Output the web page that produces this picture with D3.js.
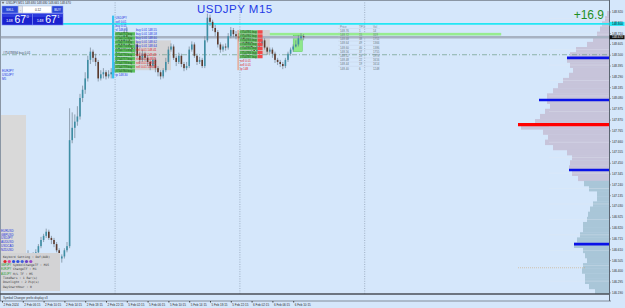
<!DOCTYPE html>
<html>
<head>
<meta charset="utf-8">
<script src="https://cdn.jsdelivr.net/npm/d3@7"></script>
<style>
  body { margin: 0; background: #d5e7fb; }
  svg { display: block; font-family: "Liberation Sans", Arial, sans-serif; }
</style>
</head>
<body>
<div id="chart"></div>
<script>
// ---- chart data ----
const symbolTitle = "USDJPY M15";
const headerText = "USDJPY,M15  148.680 148.680 148.665 148.670";
const profitText = "+16.9";

// M15 candles, two bars per slot; first visible slot
const firstBarSlot = 10;
const candleOpen = [
  146.56,146.54,146.52,146.56,146.58,146.64,146.70,146.74,146.78,146.72,
  146.70,146.66,146.60,146.52,146.54,146.60,146.64,147.67,147.79,147.85,
  147.90,148.08,148.16,148.27,148.45,148.53,148.47,148.43,148.27,148.31,
  148.33,148.29,148.31,148.33,148.43,148.55,148.64,148.60,148.72,148.66,
  148.58,148.53,148.60,148.49,148.45,148.51,148.47,148.43,148.39,148.45,
  148.37,148.33,148.29,148.35,148.43,148.55,148.58,148.47,148.43,148.49,
  148.41,148.37,148.39,148.55,148.60,148.49,148.43,148.45,148.39,148.64,
  148.86,148.82,148.76,148.72,148.60,148.55,148.58,148.57,148.68,148.74,
  148.70,148.68,148.66,148.68,148.64,148.60,148.62,148.55,148.53,148.58,
  148.60,148.64,148.57,148.53,148.55,148.51,148.45,148.43,148.41,148.39,
  148.45,148.51,148.55,148.58,148.60,148.66,148.68
];
const candleHigh = [
  146.60,146.57,146.58,146.61,146.66,146.73,146.76,146.81,146.80,146.74,
  146.72,146.68,146.62,146.56,146.62,146.68,147.98,147.94,147.92,148.00,
  148.12,148.20,148.33,148.49,148.57,148.55,148.51,148.45,148.35,148.37,
  148.35,148.35,148.37,148.47,148.58,148.68,148.66,148.75,148.77,148.68,
  148.60,148.64,148.62,148.53,148.55,148.53,148.50,148.45,148.48,148.47,
  148.39,148.35,148.37,148.47,148.58,148.61,148.60,148.49,148.52,148.51,
  148.43,148.43,148.58,148.63,148.62,148.51,148.48,148.47,148.68,148.90,
  148.89,148.84,148.79,148.74,148.62,148.60,148.61,148.71,148.77,148.76,
  148.73,148.71,148.71,148.70,148.66,148.65,148.64,148.58,148.60,148.63,
  148.66,148.66,148.58,148.57,148.57,148.53,148.47,148.45,148.43,148.47,
  148.53,148.57,148.60,148.64,148.69,148.71,148.70
];
const candleLow = [
  146.51,146.50,146.51,146.54,146.57,146.62,146.68,146.72,146.70,146.66,
  146.63,146.58,146.49,146.48,146.52,146.58,146.62,147.64,147.69,147.81,
  147.87,148.04,148.12,148.24,148.41,148.43,148.39,148.24,148.25,148.27,
  148.26,148.27,148.27,148.30,148.41,148.51,148.57,148.58,148.62,148.55,
  148.49,148.50,148.47,148.41,148.43,148.44,148.39,148.35,148.37,148.33,
  148.29,148.26,148.27,148.33,148.41,148.53,148.45,148.39,148.41,148.38,
  148.34,148.35,148.37,148.53,148.47,148.40,148.41,148.37,148.37,148.62,
  148.78,148.73,148.68,148.57,148.52,148.53,148.54,148.55,148.66,148.67,
  148.65,148.63,148.64,148.61,148.57,148.58,148.52,148.50,148.51,148.57,
  148.58,148.55,148.50,148.51,148.47,148.42,148.40,148.38,148.36,148.37,
  148.43,148.49,148.53,148.57,148.58,148.64,148.64
];
const candleClose = [
  146.54,146.52,146.56,146.58,146.64,146.70,146.74,146.78,146.72,146.70,
  146.66,146.60,146.52,146.54,146.60,146.64,147.67,147.79,147.85,147.90,
  148.08,148.16,148.27,148.45,148.53,148.47,148.43,148.27,148.31,148.33,
  148.29,148.31,148.33,148.43,148.55,148.64,148.60,148.72,148.66,148.58,
  148.53,148.60,148.49,148.45,148.51,148.47,148.43,148.39,148.45,148.37,
  148.33,148.29,148.35,148.43,148.55,148.58,148.47,148.43,148.49,148.41,
  148.37,148.39,148.55,148.60,148.49,148.43,148.45,148.39,148.64,148.86,
  148.82,148.76,148.72,148.60,148.55,148.58,148.57,148.68,148.74,148.70,
  148.68,148.66,148.68,148.64,148.60,148.62,148.55,148.53,148.58,148.60,
  148.64,148.57,148.53,148.55,148.51,148.45,148.43,148.41,148.39,148.45,
  148.51,148.55,148.58,148.60,148.66,148.68,148.67
];

// time axis
const timeSlots = [0, 8, 16, 24, 32, 40, 48, 56, 64, 72, 80, 88, 96, 104, 112];
const timeLabels = ["2 Feb 2024", "2 Feb 06:15", "2 Feb 10:15", "2 Feb 14:15", "2 Feb 18:15",
  "2 Feb 22:15", "5 Feb 02:15", "5 Feb 06:15", "5 Feb 10:15", "5 Feb 14:15", "5 Feb 18:15",
  "5 Feb 22:15", "6 Feb 02:15", "6 Feb 06:15", "6 Feb 10:15"];
const daySeparatorSlots = [43.5, 91.5, 139.5];

// price axis
const priceTicks = [148.920, 148.815, 148.710, 148.605, 148.500, 148.395, 148.290, 148.185,
  148.080, 147.975, 147.870, 147.765, 147.660, 147.555, 147.450, 147.345, 147.240, 147.135,
  147.030, 146.925, 146.820, 146.715, 146.610, 146.505, 146.400, 146.295, 146.190];
const bidPrice = 148.670;
const cyanLevel = 148.800;
const orderLevel = 148.500;
const orderLabel = "#75478894 buy 0.01";

// volume profile (right side)
const profilePrices = [148.90,148.85,148.80,148.75,148.70,148.65,148.60,148.55,148.50,148.45,
  148.40,148.35,148.30,148.25,148.20,148.15,148.10,148.05,148.00,147.95,147.90,147.85,147.80,
  147.75,147.70,147.65,147.60,147.55,147.50,147.45,147.40,147.35,147.30,147.25,147.20,147.15,
  147.10,147.05,147.00,146.95,146.90,146.85,146.80,146.75,146.70,146.65,146.60,146.55,146.50,
  146.45,146.40,146.35,146.30,146.25,146.20];
const profileVolumes = [2,4,7,9,12,16,22,33,39,42,39,36,40,46,51,56,62,62,59,64,69,74,88,66,61,
  64,56,42,37,39,40,37,31,25,20,12,12,16,19,21,22,26,26,29,32,35,26,24,22,26,27,24,24,20,14];
const keyLevelPrices = [148.47, 148.06, 147.82, 147.38, 146.66];
const keyLevelVolumes = [42, 70, 91, 40, 35];
const keyLevelColors = ["#0a12e8", "#0a12e8", "#ff0000", "#0a12e8", "#0a12e8"];

// stats table
const tableHeader = ["Price", "TPO", "Vol"];
const tablePrices = ["148.76","148.72","148.68","148.64","148.60","148.56","148.52","148.48","148.44","148.40"];
const tableCounts = [1, 15, 38, 49, 40, 37, 28, 22, 19, 6];
const tableVolumes = [14, 319, 1751, 1366, 1386, 1755, 1978, 1616, 1614, 1248];

// trade tags
const tagsLeftA = ["USDJPY","sell 0.01","buy 0.01","sl 148.90","#754771 buy","#754772 buy","#754773 buy",
  "#754774 buy","#754775 buy","#754776 buy","#754777 buy","#754778 buy","#754779 buy","#754780 buy","tp 148.30"];
const tagsRightA = ["buy 0.01 148.55","buy 0.01 148.58","buy 0.01 148.60","buy 0.01 148.62","buy 0.01 148.64",
  "sell 0.01 148.41","sell 0.01 148.43","sell 0.01 148.45","sell 0.01 148.47","sell 0.01 148.49"];
const tagsB = ["#754781 buy","#754782 buy","#754783 buy","#754784 buy","#754785 buy","#754786 buy",
  "#754787 buy","sell 0.01","sell 0.01","tp 148"];

// left side panels
const symbolsMid = ["EURJPY", "USDJPY", "M5"];
const symbolList = ["EURUSD", "GBPUSD", "USDJPY", "AUDUSD", "USDCAD", "NZDUSD"];
const symbolGreen = ["GBPJPY", "EURJPY", "AUDJPY"];
const dotColors = ["#e02828", "#e0409c", "#3050e0", "#3050e0", "#4060e0", "#6a40c8", "#9a48c8"];
const keyboardLines = ["Keybord Setting : Def(AUD)", "", "SymbolChangeTF : M15", "ChangeTF : M1",
  "H/L TF : M5", "TimeBars : 1 Bar(s)", "Downlight : 2 Pip(s)", "DayStartHour : 0"];
const footerText = "Symbol Changer prefix display v3";

function createPriceChart() {
    const width = 625, height = 308;
    const plot = {left: 2, right: 609, top: 0, bottom: 294};
    const bg = "#d5e7fb";

    const svg = d3.select("#chart").append("svg")
        .attr("width", width)
        .attr("height", height);

    svg.append("rect").attr("width", width).attr("height", height).attr("fill", bg);

    svg.append("clipPath").attr("id", "plotClip")
        .append("rect")
        .attr("x", 0).attr("y", plot.top)
        .attr("width", plot.right).attr("height", plot.bottom - plot.top);

    // slot = 30 minutes of M15 bars
    const x = d3.scaleLinear()
        .domain([0, (plot.right - plot.left) / 2.6])
        .range([plot.left, plot.right]);
    const y = d3.scaleLinear()
        .domain([146.175, 149.032])
        .range([plot.bottom, plot.top]);
    const xVol = d3.scaleLinear().domain([0, 100]).range([plot.right, plot.right - 100]);

    const g = svg.append("g").attr("clip-path", "url(#plotClip)");

    // gray box on the left edge
    g.append("rect").attr("x", 0).attr("y", 115).attr("width", 26).attr("height", 140).attr("fill", "#d9d9d9");

    // volume profile
    const step = 0.05;
    g.selectAll(".vp")
        .data(profilePrices)
        .enter()
        .append("rect")
        .attr("class", "vp")
        .attr("x", (d, i) => xVol(profileVolumes[i]))
        .attr("y", d => y(d + step / 2))
        .attr("width", (d, i) => plot.right - xVol(profileVolumes[i]))
        .attr("height", y(0) - y(step) + 0.3)
        .attr("fill", d => d >= 147.28 ? "#c7c4da" : "#a9c6d8");

    // thin light separators inside the profile
    g.selectAll(".vpsep")
        .data(profilePrices.filter((d, i) => i % 3 === 1))
        .enter()
        .append("line")
        .attr("x1", plot.right - 60).attr("x2", plot.right)
        .attr("y1", d => y(d)).attr("y2", d => y(d))
        .attr("stroke", "#e4eaf4").attr("stroke-width", 0.5).attr("opacity", 0.7);

    g.selectAll(".key")
        .data(keyLevelPrices)
        .enter()
        .append("line")
        .attr("x1", (d, i) => xVol(keyLevelVolumes[i]))
        .attr("x2", plot.right)
        .attr("y1", d => y(d)).attr("y2", d => y(d))
        .attr("stroke", (d, i) => keyLevelColors[i])
        .attr("stroke-width", (d, i) => keyLevelColors[i] === "#ff0000" ? 3.2 : 2.6);

    g.append("line")
        .attr("x1", xVol(91)).attr("x2", xVol(24))
        .attr("y1", y(146.43)).attr("y2", y(146.43))
        .attr("stroke", "#c9a97c").attr("stroke-width", 0.6).attr("stroke-dasharray", "1,1");

    // day separators
    g.selectAll(".sep")
        .data(daySeparatorSlots)
        .enter()
        .append("line")
        .attr("x1", d => x(d)).attr("x2", d => x(d))
        .attr("y1", plot.top).attr("y2", plot.bottom)
        .attr("stroke", "#7a8ca0").attr("stroke-width", 0.6).attr("stroke-dasharray", "1,1.4");

    // green level bar and boxes
    g.append("rect")
        .attr("x", x(91)).attr("y", y(148.70) - 1.3)
        .attr("width", x(192) - x(91)).attr("height", 2.6)
        .attr("fill", "#97ec8f");
    g.append("rect")
        .attr("x", x(50)).attr("y", y(148.64))
        .attr("width", x(65) - x(50)).attr("height", y(148.35) - y(148.64))
        .attr("fill", "#d4d4d6");
    g.append("rect")
        .attr("x", x(91.5)).attr("y", y(148.74))
        .attr("width", x(103) - x(91.5)).attr("height", y(148.50) - y(148.74))
        .attr("fill", "#d2d2d4");
    g.append("rect")
        .attr("x", x(112)).attr("y", y(148.69))
        .attr("width", x(115.5) - x(112)).attr("height", y(148.53) - y(148.69))
        .attr("fill", "#8fe88a").attr("stroke", "#5bcf5b").attr("stroke-width", 0.5);

    // horizontal lines
    g.append("line")
        .attr("x1", plot.left).attr("x2", plot.right)
        .attr("y1", y(cyanLevel)).attr("y2", y(cyanLevel))
        .attr("stroke", "#22e6f4").attr("stroke-width", 1.6);
    g.append("line")
        .attr("x1", plot.left).attr("x2", plot.right)
        .attr("y1", y(orderLevel)).attr("y2", y(orderLevel))
        .attr("stroke", "#6e9c86").attr("stroke-width", 0.7).attr("stroke-dasharray", "5,2,1,2");
    g.append("text")
        .attr("x", 3).attr("y", y(orderLevel) - 1)
        .attr("font-size", 3).attr("fill", "#3a4a5a")
        .text(orderLabel);
    g.append("line")
        .attr("x1", 0).attr("x2", plot.right)
        .attr("y1", y(bidPrice)).attr("y2", y(bidPrice))
        .attr("stroke", "#a7b2c2").attr("stroke-width", 2.4);

    // candles
    const candles = candleClose.map((c, i) => ({
        slot: firstBarSlot + i, o: candleOpen[i], h: candleHigh[i], l: candleLow[i], c: c
    }));
    g.selectAll(".wick")
        .data(candles)
        .enter()
        .append("line")
        .attr("x1", d => x(d.slot)).attr("x2", d => x(d.slot))
        .attr("y1", d => y(d.h)).attr("y2", d => y(d.l))
        .attr("stroke", "#70818f").attr("stroke-width", 0.7);
    g.selectAll(".body")
        .data(candles)
        .enter()
        .append("rect")
        .attr("x", d => x(d.slot) - 0.8)
        .attr("y", d => y(Math.max(d.o, d.c)))
        .attr("width", 1.6)
        .attr("height", d => Math.max(0.7, Math.abs(y(d.o) - y(d.c))))
        .attr("fill", d => d.c >= d.o ? "#3e8ea4" : "#5c3a2c");

    // trade tag cluster A
    g.append("rect")
        .attr("x", x(42.7) - 1).attr("y", y(148.88))
        .attr("width", 2.2).attr("height", y(148.27) - y(148.88))
        .attr("fill", "#38c2f0");
    const rowH = 4.1;
    const ax = x(42.7) + 2;
    tagsLeftA.forEach((t, i) => {
        const ty = y(148.88) + 3 + i * rowH;
        const green = i >= 4 && i <= 13;
        if (green) {
            g.append("rect").attr("x", ax).attr("y", ty - 2.8)
                .attr("width", 20).attr("height", 3.4).attr("fill", "#5cbf5c");
        }
        g.append("text").attr("x", ax + 0.5).attr("y", ty)
            .attr("font-size", 2.9)
            .attr("fill", green ? "#1b4a1b" : "#2233dd")
            .text(t);
    });
    tagsRightA.forEach((t, i) => {
        const ty = y(148.88) + 3 + (i + 3) * rowH;
        g.append("text").attr("x", ax + 21).attr("y", ty)
            .attr("font-size", 2.9)
            .attr("fill", i < 5 ? "#2233dd" : "#e02020")
            .text(t);
    });

    // trade tag cluster B
    g.append("line")
        .attr("x1", x(90.8)).attr("x2", x(90.8))
        .attr("y1", y(148.74)).attr("y2", y(148.35))
        .attr("stroke", "#f08c64").attr("stroke-width", 1);
    const bx = x(90.8) + 1.5;
    tagsB.forEach((t, i) => {
        const ty = y(148.74) + 3 + i * rowH;
        const green = i < 7;
        if (green) {
            g.append("rect").attr("x", bx).attr("y", ty - 2.8)
                .attr("width", 18).attr("height", 3.4).attr("fill", "#66c266");
            g.append("rect").attr("x", bx + 18).attr("y", ty - 2.8)
                .attr("width", 5).attr("height", 3.4).attr("fill", "#f04a4a");
        }
        g.append("text").attr("x", bx + 0.5).attr("y", ty)
            .attr("font-size", 2.9)
            .attr("fill", green ? "#1b4a1b" : "#e02020")
            .text(t);
    });

    // stats table
    const tx = [340, 359, 373];
    const ty0 = 27.5;
    tableHeader.forEach((h, j) => {
        g.append("text").attr("x", tx[j]).attr("y", ty0).attr("font-size", 2.9).attr("fill", "#7a8796").text(h);
    });
    tablePrices.forEach((p, i) => {
        const ry = ty0 + 4.2 * (i + 1);
        g.append("line").attr("x1", 338).attr("x2", 380).attr("y1", ry - 3.2).attr("y2", ry - 3.2)
            .attr("stroke", "#bfcad8").attr("stroke-width", 0.3);
        g.append("text").attr("x", tx[0]).attr("y", ry).attr("font-size", 2.9).attr("fill", "#6a7786").text(p);
        g.append("text").attr("x", tx[1]).attr("y", ry).attr("font-size", 2.9).attr("fill", "#6a7786").text(tableCounts[i]);
        g.append("text").attr("x", tx[2]).attr("y", ry).attr("font-size", 2.9).attr("fill", "#6a7786").text(tableVolumes[i]);
    });

    // left side labels
    symbolsMid.forEach((s, i) => {
        g.append("text").attr("x", 2).attr("y", 72 + i * 4).attr("font-size", 3).attr("fill", "#2233dd").text(s);
    });
    symbolList.forEach((s, i) => {
        g.append("text").attr("x", 1).attr("y", 232 + i * 3.7).attr("font-size", 3).attr("fill", "#2233dd").text(s);
    });

    // keyboard settings panel
    g.append("rect").attr("x", 0).attr("y", 253).attr("width", 60).attr("height", 38).attr("fill", "#d3d3d5");
    keyboardLines.forEach((t, i) => {
        // rows 2-4 share their start with the green symbol tags
        const lx = (i >= 2 && i <= 4) ? 13 : 3;
        g.append("text").attr("x", lx).attr("y", 257.5 + i * 4.3)
            .attr("font-size", 3).attr("font-family", "DejaVu Sans Mono")
            .attr("fill", "#3a3a3a").text(t);
    });
    dotColors.forEach((c, i) => {
        g.append("circle").attr("cx", 5 + i * 4.3).attr("cy", 261.5).attr("r", 1.6).attr("fill", c);
    });
    symbolGreen.forEach((s, i) => {
        g.append("text").attr("x", 1).attr("y", 266.1 + i * 4.3).attr("font-size", 2.6).attr("fill", "#1f9a2a").text(s);
    });

    // frame
    svg.append("line").attr("x1", 0).attr("x2", plot.right).attr("y1", 0.5).attr("y2", 0.5)
        .attr("stroke", "#8a96a4").attr("stroke-width", 1);
    svg.append("line").attr("x1", 0.5).attr("x2", 0.5).attr("y1", 0).attr("y2", 301)
        .attr("stroke", "#8a96a4").attr("stroke-width", 1);
    svg.append("line").attr("x1", 0).attr("x2", plot.right).attr("y1", plot.bottom).attr("y2", plot.bottom)
        .attr("stroke", "#4a4f57").attr("stroke-width", 1.3);
    svg.append("line").attr("x1", 0).attr("x2", plot.right + 2).attr("y1", 301).attr("y2", 301)
        .attr("stroke", "#6c7684").attr("stroke-width", 0.8);
    svg.append("text").attr("x", 3).attr("y", 298.8).attr("font-size", 3).attr("fill", "#333").text(footerText);

    // header text with icon
    svg.append("path").attr("d", "M1.5,1.8 L4.5,1.8 L3,4.2 Z").attr("fill", "#7a7a7a");
    svg.append("text").attr("x", 6).attr("y", 4).attr("font-size", 3).attr("fill", "#333").text(headerText);

    // one-click trading panel
    const panel = svg.append("g");
    panel.append("rect").attr("x", 2).attr("y", 6).attr("width", 16).attr("height", 7)
        .attr("fill", "#2b48d6").attr("stroke", "#8d9cf0").attr("stroke-width", 0.5);
    panel.append("text").attr("x", 10).attr("y", 10.6).attr("text-anchor", "middle")
        .attr("font-size", 3.2).attr("fill", "#fff").text("SELL");
    panel.append("rect").attr("x", 18.5).attr("y", 6).attr("width", 33).attr("height", 7)
        .attr("fill", "#ffffff").attr("stroke", "#9aa6c0").attr("stroke-width", 0.4);
    panel.append("rect").attr("x", 18.5).attr("y", 6).attr("width", 4).attr("height", 7)
        .attr("fill", "#e6e8ee").attr("stroke", "#9aa6c0").attr("stroke-width", 0.4);
    panel.append("text").attr("x", 20.5).attr("y", 10.5).attr("text-anchor", "middle")
        .attr("font-size", 3).attr("fill", "#333").text("-");
    panel.append("text").attr("x", 38).attr("y", 10.6).attr("text-anchor", "middle")
        .attr("font-size", 3.2).attr("fill", "#333").text("0.12");
    panel.append("rect").attr("x", 52).attr("y", 6).attr("width", 11).attr("height", 7)
        .attr("fill", "#2b48d6").attr("stroke", "#8d9cf0").attr("stroke-width", 0.5);
    panel.append("text").attr("x", 57.5).attr("y", 10.6).attr("text-anchor", "middle")
        .attr("font-size", 3.2).attr("fill", "#fff").text("BUY");

    const quotes = [{bx: 2, last: "0"}, {bx: 32.7, last: "1"}];
    quotes.forEach(q => {
        panel.append("rect").attr("x", q.bx).attr("y", 13.5).attr("width", 30.3).attr("height", 11.5)
            .attr("fill", "#1b22cf").attr("stroke", "#6f7cf0").attr("stroke-width", 0.6);
        panel.append("rect").attr("x", q.bx + 0.5).attr("y", 14).attr("width", 29.3).attr("height", 3)
            .attr("fill", "#3b4fe6").attr("opacity", 0.6);
        panel.append("text").attr("x", q.bx + 4).attr("y", 22).attr("font-size", 4)
            .attr("fill", "#fff").text("148");
        panel.append("text").attr("x", q.bx + 12.5).attr("y", 23.3).attr("font-size", 10.5)
            .attr("fill", "#fff").text("67");
        panel.append("text").attr("x", q.bx + 24.5).attr("y", 18.3).attr("font-size", 4.2)
            .attr("fill", "#fff").text(q.last);
    });

    // title and profit
    svg.append("text").attr("x", 197).attr("y", 12.5)
        .attr("font-size", 11.5).attr("letter-spacing", 0.5)
        .attr("fill", "#1f3be6").text(symbolTitle);
    svg.append("text").attr("x", 604).attr("y", 19).attr("text-anchor", "end")
        .attr("font-size", 12).attr("fill", "#1f8f22").text(profitText);

    // price axis
    const yAxis = svg.append("g")
        .attr("transform", `translate(${plot.right},0)`)
        .call(d3.axisRight(y).tickValues(priceTicks).tickFormat(d3.format(".3f")).tickSize(1.5).tickPadding(1.5));
    yAxis.select(".domain").attr("stroke", "#5c6672").attr("d", `M0.5,0V301`);
    yAxis.selectAll("line").attr("stroke", "#5c6672");
    yAxis.selectAll("text").attr("font-size", 3).attr("fill", "#2a2a2a")
        .attr("font-family", "Liberation Sans, Arial");

    const tags = [
        {p: cyanLevel, fill: "#22e6f4", color: "#000"},
        {p: bidPrice, fill: "#111", color: "#fff"}
    ];
    tags.forEach(t => {
        svg.append("rect").attr("x", plot.right + 0.5).attr("y", y(t.p) - 2).attr("width", 15).attr("height", 4)
            .attr("fill", t.fill);
        svg.append("text").attr("x", plot.right + 3).attr("y", y(t.p) + 1.1).attr("font-size", 3)
            .attr("fill", t.color).text(d3.format(".3f")(t.p));
    });

    // time axis
    const xAxis = svg.append("g")
        .attr("transform", "translate(0,301)")
        .call(d3.axisBottom(x).tickValues(timeSlots).tickFormat((d, i) => timeLabels[i]).tickSize(1.5).tickPadding(1.5));
    xAxis.select(".domain").remove();
    xAxis.selectAll("line").attr("stroke", "#444");
    xAxis.selectAll("text")
        .attr("text-anchor", "start").attr("dx", 1)
        .attr("font-size", 3).attr("fill", "#2a2a2a")
        .attr("font-family", "Liberation Sans, Arial");
}

createPriceChart();
</script>
</body>
</html>
